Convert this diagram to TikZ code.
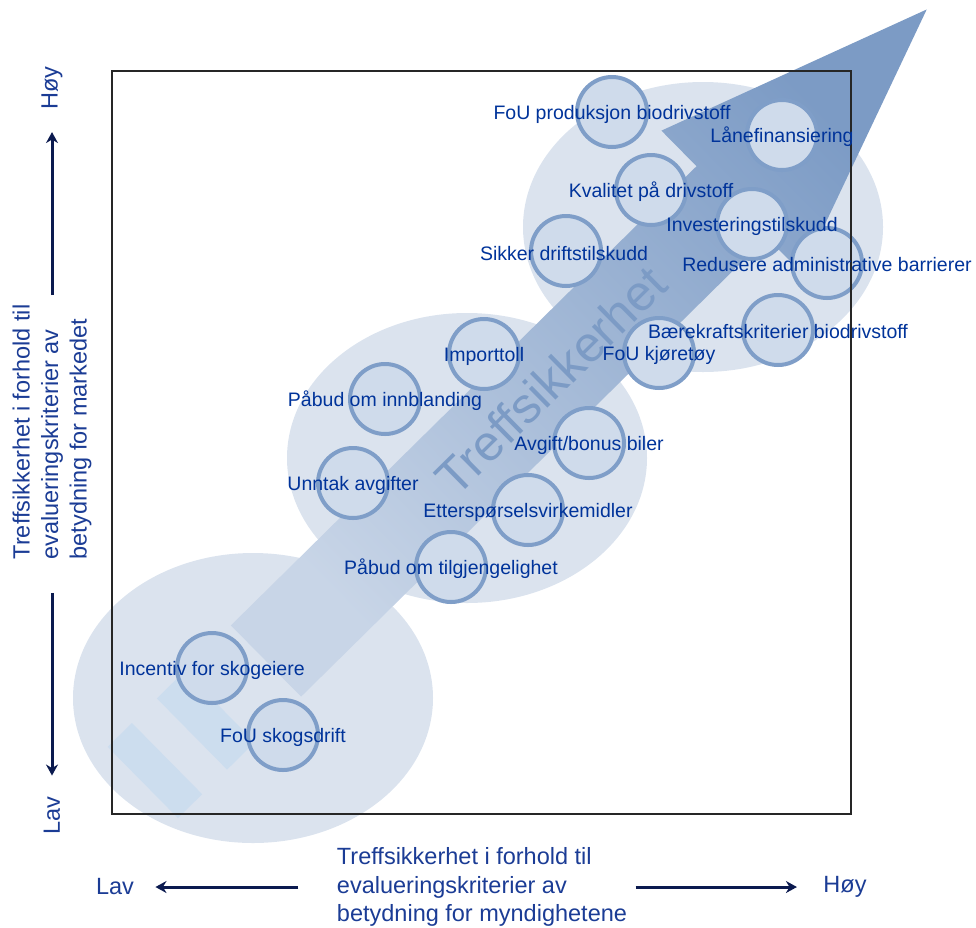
\documentclass[tikz,border=0pt]{standalone}
\usepackage{fontspec}
\setmainfont{Liberation Sans}
\usetikzlibrary{calc,positioning,arrows.meta,shapes}

\definecolor{txtblue}{HTML}{00339A}
\definecolor{axblue}{HTML}{1B3C95}
\definecolor{axnavy}{HTML}{0B1A4F}
\definecolor{ellfill}{HTML}{DBE3EE}
\definecolor{bubfill}{HTML}{CFDBEB}
\definecolor{bubline}{HTML}{7F9EC8}
\definecolor{arrdark}{HTML}{7C9BC5}
\definecolor{arrlight}{HTML}{C8D5E7}
\definecolor{stripe}{HTML}{CCDDEE}

\begin{document}
\begin{tikzpicture}[x=1pt,y=-1pt,
  grp/.style={ellipse,fill=ellfill,minimum width=360pt,minimum height=290pt,inner sep=0pt},
  bub/.style={circle,draw=bubline,line width=4pt,fill=bubfill,minimum size=70pt,inner sep=0pt},
  lbl/.style={text=txtblue,font=\fontsize{19.5}{22}\selectfont,inner sep=0pt,yshift=-2pt},
  axtxt/.style={text=axblue,font=\fontsize{23.5}{28.5}\selectfont},
  axarr/.style={draw=axnavy,line width=3pt,-{Stealth[length=11pt,width=12pt]}},
  bigtxt/.style={text=arrdark,font=\fontsize{50}{60}\selectfont}]
  \useasboundingbox (0,0) rectangle (976,927);

  % groups
  \node[grp] (grplav) at (253,698) {};
  \node[grp] (grpmid) at (467,458) {};
  \node[grp] (grphoy) at (703,227) {};

  % big arrow
  \begin{scope}[shift={(266,661)},rotate=44.6]
    \coordinate (t1) at (0,-50);
    \coordinate (t2) at (654,-50);
    \coordinate (t3) at (654,-100);
    \coordinate (tip) at (928,0);
    \coordinate (t5) at (654,100);
    \coordinate (t6) at (654,50);
    \coordinate (t7) at (0,50);
    \coordinate (mid) at (400,0);
    \fill[stripe] (-104,-50) rectangle (-65,50);
    \fill[stripe] (-173,-50) rectangle (-139,50);
  \end{scope}
  \shade[bottom color=arrlight,top color=arrdark,shading angle=-45.4]
    (t1) -- (t2) -- (t3) -- (tip) -- (t5) -- (t6) -- (t7) -- cycle;
  \node[bigtxt,rotate=44.6] (treff) at (mid) {Treffsikkerhet};

  % bubbles
  \node[bub] (prod) at (612,112) {};
  \node[bub] (laan) at (782,135) {};
  \node[bub] (kval) at (651,190) {};
  \node[bub] (sikker) at (566,251) {};
  \node[bub] (redus) at (827,263) {};
  \node[bub] (invest) at (752,224) {};
  \node[bub] (fouk) at (659,353) {};
  \node[bub] (baere) at (778,330) {};
  \node[bub] (import) at (484,354) {};
  \node[bub] (innbl) at (385,399) {};
  \node[bub] (avgift) at (589,443) {};
  \node[bub] (unntak) at (353,483) {};
  \node[bub] (ettersp) at (528,510) {};
  \node[bub] (tilgj) at (451,567) {};
  \node[bub] (incentiv) at (212,668) {};
  \node[bub] (skog) at (283,735) {};

  \draw[line width=1.3pt,draw=black!85] (112,71) rectangle (851,814);

  \node[lbl] (prodtxt) at (prod) {FoU produksjon biodrivstoff};
  \node[lbl] (laantxt) at (laan) {Lånefinansiering};
  \node[lbl] (kvaltxt) at (kval) {Kvalitet på drivstoff};
  \node[lbl] (sikkertxt) at (564,252) {Sikker driftstilskudd};
  \node[lbl] (redustxt) at (redus) {Redusere administrative barrierer};
  \node[lbl] (investtxt) at (invest) {Investeringstilskudd};
  \node[lbl] (foukt) at (fouk) {FoU kjøretøy};
  \node[lbl] (baeretxt) at (baere) {Bærekraftskriterier biodrivstoff};
  \node[lbl] (importtxt) at (import) {Importtoll};
  \node[lbl] (innbltxt) at (innbl) {Påbud om innblanding};
  \node[lbl] (avgifttxt) at (avgift) {Avgift/bonus biler};
  \node[lbl] (unntaktxt) at (unntak) {Unntak avgifter};
  \node[lbl] (etterspt) at (ettersp) {Etterspørselsvirkemidler};
  \node[lbl] (tilgjtxt) at (tilgj) {Påbud om tilgjengelighet};
  \node[lbl] (incentivtxt) at (incentiv) {Incentiv for skogeiere};
  \node[lbl] (skogtxt) at (skog) {FoU skogsdrift};

  % axes
  \node[axtxt,rotate=90,align=left] (ytitle) at (52,432) {Treffsikkerhet i forhold til\\evalueringskriterier av\\betydning for markedet};
  \node[axtxt,rotate=90] (yhoy) at (52,88) {Høy};
  \node[axtxt,rotate=90] (ylav) at (52,816) {Lav};
  \draw[axarr,shorten <=6pt,shorten >=19pt] (ytitle) -- (yhoy);
  \draw[axarr,shorten <=30pt,shorten >=18pt] (ytitle) -- (ylav);

  \node[axtxt,align=left] (xtitle) at (482,887) {Treffsikkerhet i forhold til\\evalueringskriterier av\\betydning for myndighetene};
  \node[axtxt] (xlav) at (115,887) {Lav};
  \node[axtxt] (xhoy) at (845,887) {Høy};
  \draw[axarr,shorten <=35pt,shorten >=18pt] (xtitle) -- (xlav);
  \draw[axarr,shorten <=5pt,shorten >=23pt] (xtitle) -- (xhoy);
\end{tikzpicture}
\end{document}
